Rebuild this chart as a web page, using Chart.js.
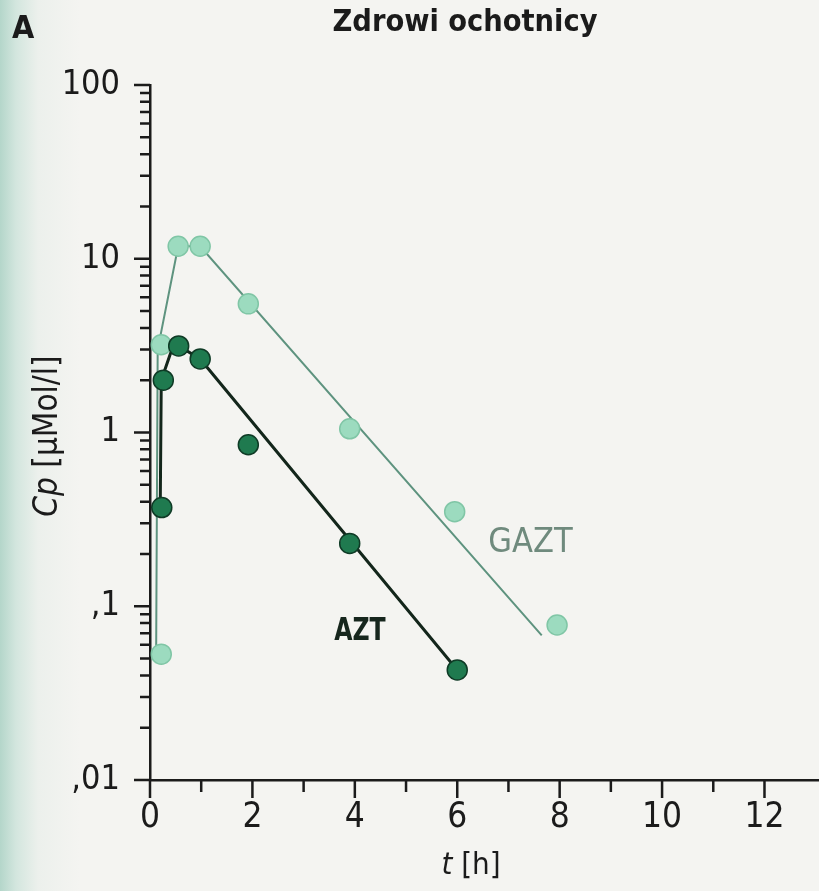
<!DOCTYPE html>
<html>
<head>
<meta charset="utf-8">
<script src="https://cdn.jsdelivr.net/npm/chart.js@4/dist/chart.umd.min.js"></script>
<style>
  html, body { margin: 0; padding: 0; }
  body {
    width: 819px; height: 891px; overflow: hidden;
    background: linear-gradient(to right, #b4d6ca 0px, #d3e6de 16px, #ecf0ec 38px, #f4f4f1 80px);
  }
  canvas { display: block; }
</style>
</head>
<body>
<canvas id="chart" width="819" height="891"></canvas>
<script>
// measured points, AZT (dark) and GAZT (light)
const aztTimes = [0.23, 0.26, 0.56, 0.98, 1.92, 3.9, 6];
const aztValues = [0.37, 2.0, 3.15, 2.65, 0.85, 0.23, 0.043];
const gaztTimes = [0.22, 0.22, 0.55, 0.98, 1.92, 3.9, 5.95, 7.95];
const gaztValues = [0.053, 3.2, 11.8, 11.8, 5.5, 1.05, 0.35, 0.078];

// the drawn curves (fits, not point-to-point)
const aztFitTimes = [0.2, 0.22, 0.4, 0.56, 0.98, 6];
const aztFitValues = [0.37, 2.0, 2.85, 3.15, 2.65, 0.043];
const gaztFitTimes = [0.12, 0.15, 0.55, 0.98, 7.65];
const gaztFitValues = [0.053, 3.0, 11.8, 11.8, 0.068];

// axes
const xMax = 12.84;
const xTickValues = [0, 2, 4, 6, 8, 10, 12];
const xMinorValues = [1, 3, 5, 7, 9, 11];
const yTickValues = [100, 10, 1, 0.1, 0.01];
const yTickLabels = ["100", "10", "1", ",1", ",01"];
const yMinorFactors = [2, 3, 4, 5, 6, 7, 8, 9];

const narrow = '"DejaVu Sans Condensed", "Liberation Sans Narrow", sans-serif';
const ink = "#1b1b1b";

const toXY = (ts, vs) => ts.map((t, i) => ({ x: t, y: vs[i] }));

// draw text squeezed horizontally around (x, y)
function squeezed(ctx, text, x, y, sx) {
  ctx.save();
  ctx.translate(x, y);
  ctx.scale(sx, 1);
  ctx.fillText(text, 0, 0);
  ctx.restore();
}

// tick marks, titles and series names
const decorations = {
  id: "decorations",
  afterDraw(chart) {
    const ctx = chart.ctx;
    const xs = chart.scales.x;
    const ys = chart.scales.y;
    const area = chart.chartArea;
    ctx.save();
    ctx.strokeStyle = ink;
    ctx.lineWidth = 2.5;
    ctx.beginPath();
    // x axis runs on to the page edge
    const axisY = Math.round(area.bottom - 1.25) + 1.25;
    ctx.moveTo(area.left, axisY);
    ctx.lineTo(chart.width, axisY);
    yTickValues.forEach((v) => {
      const p = ys.getPixelForValue(v);
      ctx.moveTo(area.left - 16, p);
      ctx.lineTo(area.left, p);
      if (v < 100) {
        yMinorFactors.forEach((k) => {
          const q = ys.getPixelForValue(v * k);
          ctx.moveTo(area.left - 10, q);
          ctx.lineTo(area.left, q);
        });
      }
    });
    xTickValues.forEach((v) => {
      const p = xs.getPixelForValue(v);
      ctx.moveTo(p, area.bottom);
      ctx.lineTo(p, area.bottom + 18);
    });
    xMinorValues.forEach((v) => {
      const p = xs.getPixelForValue(v);
      ctx.moveTo(p, area.bottom);
      ctx.lineTo(p, area.bottom + 12);
    });
    ctx.stroke();

    ctx.fillStyle = ink;
    ctx.textBaseline = "alphabetic";
    ctx.textAlign = "center";
    ctx.font = "bold 31px " + narrow;
    squeezed(ctx, "Zdrowi ochotnicy", 465, 31, 0.98);
    ctx.textAlign = "left";
    ctx.font = "bold 32px " + narrow;
    ctx.fillText("A", 12, 38);

    // x title: t [h]
    ctx.font = "italic 31px " + narrow;
    const tW = ctx.measureText("t").width;
    ctx.font = "31px " + narrow;
    const hW = ctx.measureText(" [h]").width;
    let x0 = 471 - (tW + hW) / 2;
    ctx.font = "italic 31px " + narrow;
    ctx.fillText("t", x0, 874);
    ctx.font = "31px " + narrow;
    ctx.fillText(" [h]", x0 + tW, 874);

    // y title: Cp [µMol/l]
    ctx.translate(57, 436);
    ctx.rotate(-Math.PI / 2);
    ctx.font = "italic 33px " + narrow;
    const cW = ctx.measureText("Cp").width;
    ctx.font = "33px " + narrow;
    const uW = ctx.measureText(" [µMol/l]").width;
    x0 = -(cW + uW) / 2;
    ctx.font = "italic 33px " + narrow;
    ctx.fillText("Cp", x0, 0);
    ctx.font = "33px " + narrow;
    ctx.fillText(" [µMol/l]", x0 + cW, 0);
    ctx.setTransform(1, 0, 0, 1, 0, 0);

    // series names
    ctx.textAlign = "center";
    ctx.textBaseline = "middle";
    ctx.font = "34px " + narrow;
    ctx.fillStyle = "#6f8a7d";
    ctx.fillText("GAZT", xs.getPixelForValue(7.43), ys.getPixelForValue(0.23));
    ctx.font = "bold 32px " + narrow;
    ctx.fillStyle = "#16261d";
    squeezed(ctx, "AZT", xs.getPixelForValue(4.1), ys.getPixelForValue(0.071), 0.82);
    ctx.restore();
  },
};

new Chart(document.getElementById("chart"), {
  type: "scatter",
  data: {
    datasets: [
      {
        label: "AZT",
        data: toXY(aztTimes, aztValues),
        pointRadius: 10,
        backgroundColor: "#1f7a4f",
        borderColor: "#0f3b26",
        borderWidth: 1.5,
        showLine: false,
      },
      {
        label: "GAZT",
        data: toXY(gaztTimes, gaztValues),
        pointRadius: 10,
        backgroundColor: "#9cdbbf",
        borderColor: "#80c6a6",
        borderWidth: 1.5,
        showLine: false,
      },
      {
        label: "AZT fit",
        data: toXY(aztFitTimes, aztFitValues),
        showLine: true,
        pointRadius: 0,
        borderColor: "#13261b",
        borderWidth: 3,
      },
      {
        label: "GAZT fit",
        data: toXY(gaztFitTimes, gaztFitValues),
        showLine: true,
        pointRadius: 0,
        borderColor: "#5e937f",
        borderWidth: 2,
      },
    ],
  },
  options: {
    responsive: false,
    animation: false,
    layout: { padding: { top: 85, right: 0, bottom: 0, left: 0 } },
    plugins: {
      legend: { display: false },
      tooltip: { enabled: false },
    },
    scales: {
      x: {
        type: "linear",
        min: 0,
        max: xMax,
        afterBuildTicks: (ax) => {
          ax.ticks = xTickValues.map((v) => ({ value: v }));
        },
        afterFit: (ax) => {
          ax.height = 111;
        },
        grid: { display: false, drawTicks: false },
        border: { display: false },
        ticks: {
          padding: 17,
          color: ink,
          font: { family: narrow, size: 35 },
          callback: (v) => String(v),
        },
      },
      y: {
        type: "logarithmic",
        min: 0.01,
        max: 100,
        afterBuildTicks: (ax) => {
          ax.ticks = yTickValues.map((v) => ({ value: v }));
        },
        afterFit: (ax) => {
          ax.width = 150;
        },
        grid: { display: false, drawTicks: false },
        border: { color: ink, width: 2.5 },
        ticks: {
          padding: 30,
          color: ink,
          font: { family: narrow, size: 34 },
          callback: (v) => yTickLabels[yTickValues.indexOf(v)],
        },
      },
    },
  },
  plugins: [decorations],
});
</script>
</body>
</html>
